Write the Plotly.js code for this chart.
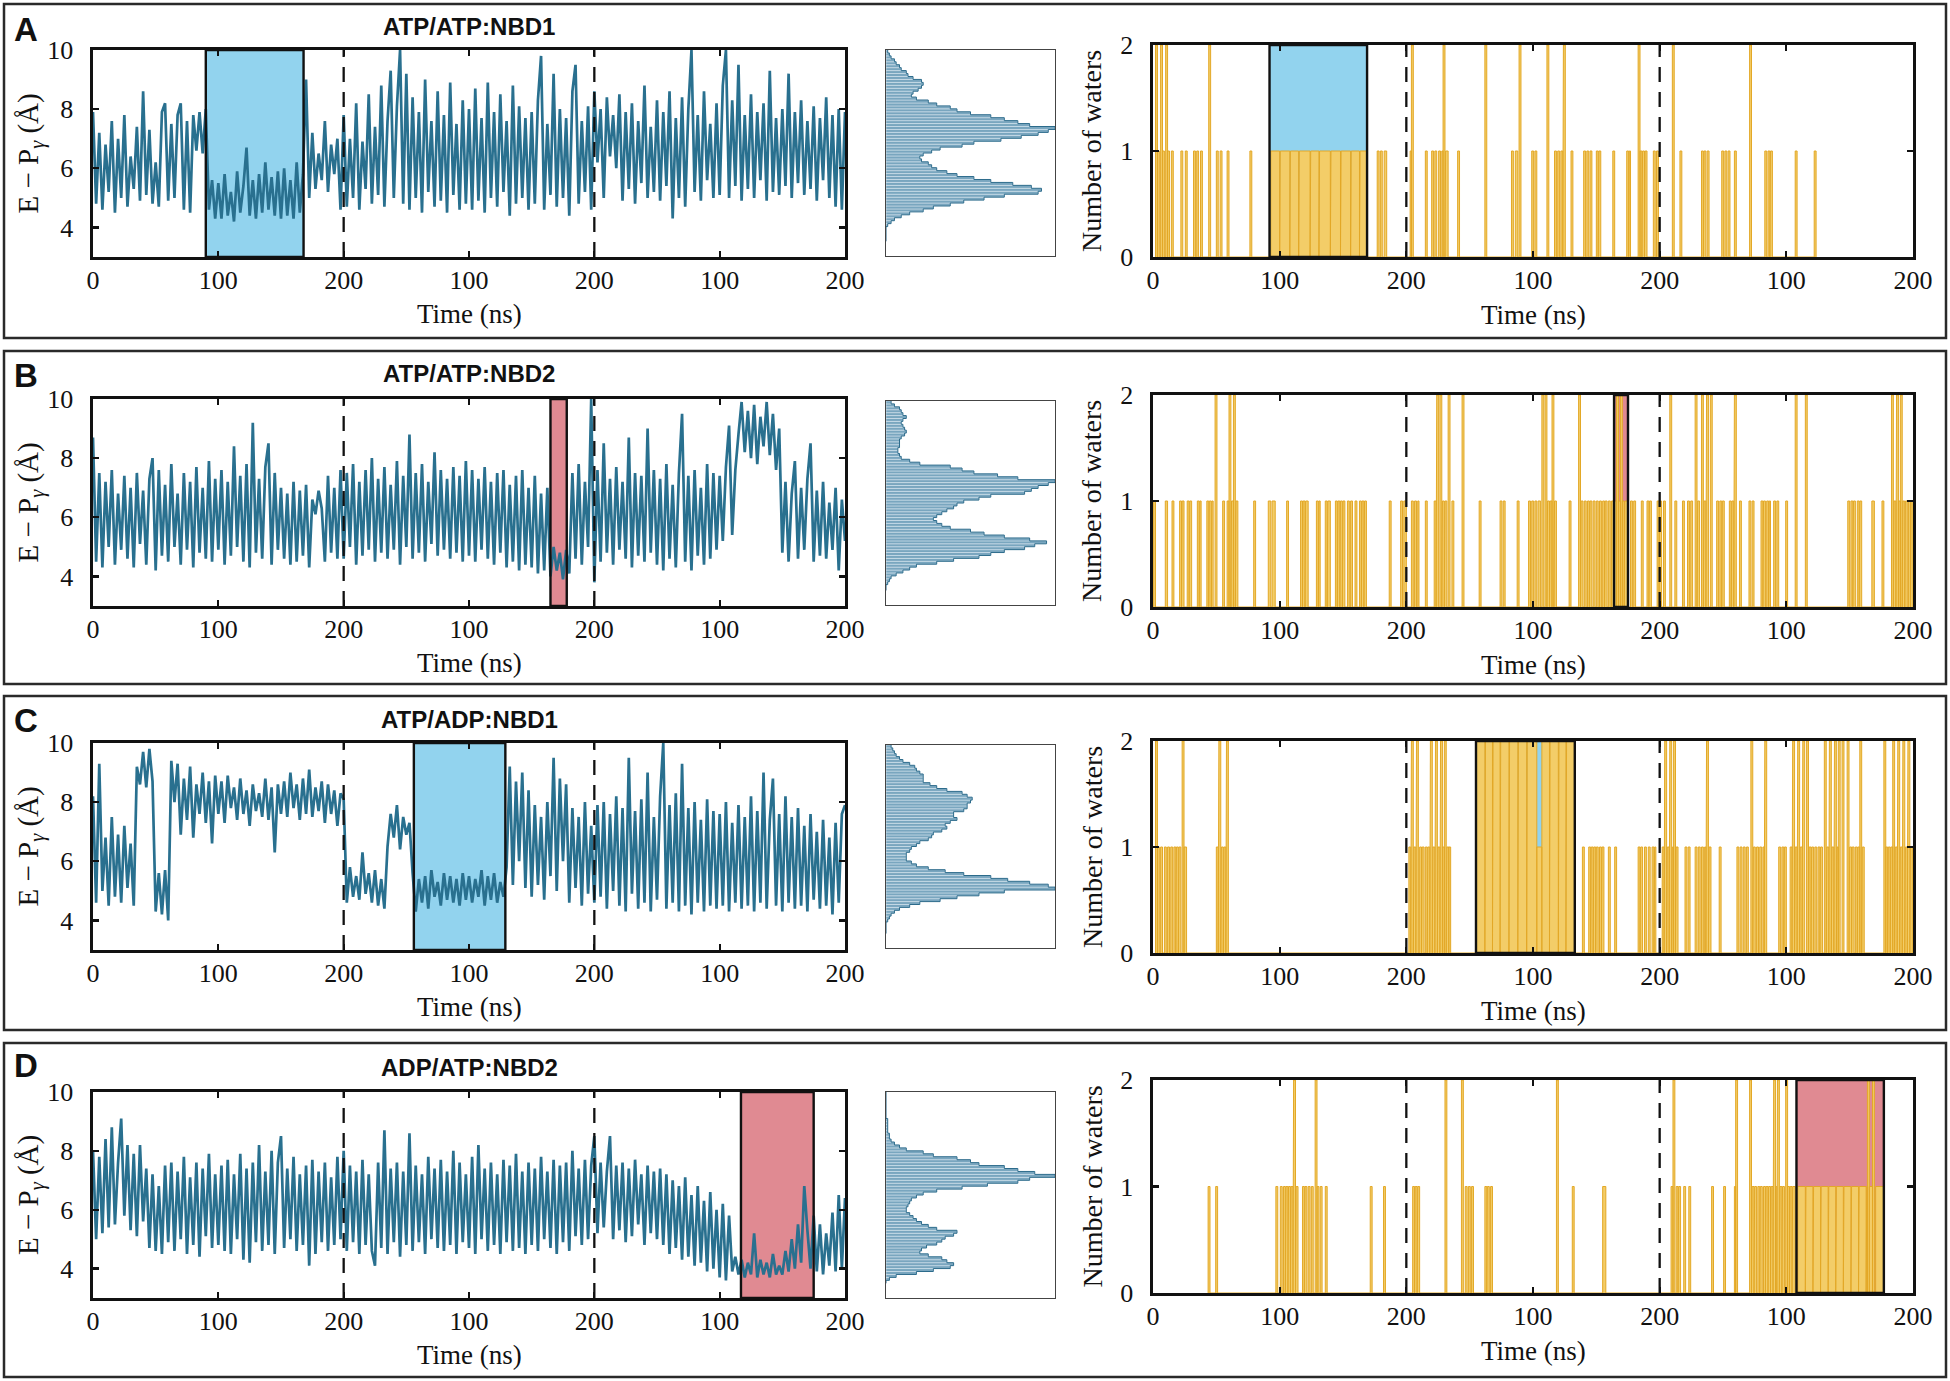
<!DOCTYPE html>
<html><head><meta charset="utf-8">
<script src="https://cdn.plot.ly/plotly-3.0.1.min.js"></script>
<style>html,body{margin:0;padding:0;background:#fff}#chart{width:1950px;height:1381px}</style>
</head><body><div id="chart"></div>
<script>
// ================= DATA =================
const timeTicks = [0, 100, 200, 300, 400, 500, 600];
const timeTickText = ['0', '100', '200', '100', '200', '100', '200'];
const runBoundaries = [200, 400];
const sampleStep = 2.5; // ns between plotted samples
const titles = ['ATP/ATP:NBD1', 'ATP/ATP:NBD2', 'ATP/ADP:NBD1', 'ADP/ATP:NBD2'];
const letters = ['A', 'B', 'C', 'D'];

// E - Pgamma distance traces (Å), one value every 2.5 ns over 3 x 200 ns runs
const distA = [
7.9,4.8,7.2,4.6,6.8,5.2,7.6,4.5,7.0,5.0,7.8,4.7,6.4,5.3,7.4,4.9,8.6,5.1,7.3,4.8,
6.2,4.7,7.9,8.2,4.9,7.5,5.0,7.8,8.2,4.6,7.6,4.5,7.8,6.6,7.9,6.5,8.0,4.6,5.6,4.3,
5.5,4.3,5.8,4.4,5.2,4.2,5.9,4.5,5.4,6.7,4.4,5.6,4.3,5.8,4.5,6.2,4.6,5.7,4.4,5.9,
4.3,6.0,4.4,5.6,4.3,6.2,4.5,5.8,9.0,5.0,7.2,5.3,6.5,5.6,7.6,5.2,6.8,5.8,7.0,4.6,
7.8,4.7,7.0,5.0,8.2,4.6,6.9,5.3,8.5,4.8,7.4,5.1,8.8,4.7,7.6,9.3,5.0,8.1,10.0,4.8,
9.2,4.6,8.4,5.0,7.9,4.5,9.0,5.2,7.6,4.7,8.6,4.9,7.8,4.5,8.9,5.1,7.5,4.6,8.3,4.8,
8.0,4.6,8.7,4.9,7.7,4.5,8.9,5.0,7.9,4.7,8.5,5.2,7.6,4.4,8.8,4.8,8.1,5.0,7.7,4.6,
7.9,4.8,8.3,9.8,4.6,7.5,5.1,9.2,4.7,8.0,5.0,7.7,4.4,8.6,9.5,4.8,7.6,5.2,8.1,4.6,
8.6,6.2,8.0,5.0,8.4,6.4,7.8,6.0,8.5,4.9,7.9,5.3,8.2,4.8,7.6,5.5,8.8,5.0,7.4,5.2,
8.3,4.9,7.9,5.4,8.6,4.3,7.7,5.0,8.4,4.7,8.0,10.0,5.2,7.8,4.9,8.6,5.6,7.5,5.0,8.2,
5.1,8.8,10.0,5.0,8.3,5.4,9.5,4.9,7.8,5.3,8.5,5.0,7.9,5.6,8.2,4.9,9.3,5.2,7.7,5.1,
8.0,5.4,9.2,5.0,7.9,5.5,8.3,5.1,7.6,5.3,8.1,4.9,7.7,5.6,8.4,5.0,7.8,4.7,8.0,4.6,7.9];
const distB = [
8.7,4.5,7.5,4.3,7.2,5.0,7.6,4.4,6.8,4.9,7.4,4.6,7.0,4.3,7.5,5.1,6.9,4.4,7.3,8.0,
4.2,7.6,4.7,7.1,4.5,7.8,5.0,6.8,4.4,7.5,4.9,7.2,4.3,7.7,4.8,7.0,4.6,7.9,4.5,7.3,
4.9,7.6,4.4,7.2,4.7,8.4,5.0,7.4,4.5,7.8,4.3,9.2,4.8,7.3,4.6,7.7,8.5,4.4,7.5,4.9,
7.0,4.6,6.8,4.4,7.2,4.5,6.9,4.7,7.1,4.3,6.6,6.1,6.9,6.3,4.5,7.4,4.8,7.0,4.6,7.6,
4.6,7.5,5.0,7.8,4.4,7.2,4.7,7.6,4.9,8.0,4.5,7.3,4.8,7.7,4.6,7.1,4.9,7.9,4.4,7.4,
5.0,8.8,4.6,7.5,4.8,7.8,4.5,7.2,5.1,8.2,4.7,7.6,4.9,7.3,4.6,7.7,4.8,7.4,4.5,7.9,
4.7,7.6,4.5,7.3,4.9,7.7,4.6,7.2,4.4,7.5,4.8,7.6,4.3,7.1,4.5,7.4,4.2,7.6,4.4,7.0,
4.3,7.4,4.1,6.8,4.2,7.0,4.0,5.0,4.2,4.8,3.9,4.9,4.1,7.5,4.6,7.8,4.4,7.2,5.0,10.0,
3.8,7.6,4.5,8.5,4.8,7.3,4.4,7.7,4.9,7.2,4.6,8.7,4.3,7.5,4.7,7.4,4.5,9.0,4.8,7.6,
4.4,7.3,4.2,7.8,4.6,7.1,4.3,7.5,9.5,4.5,7.4,4.2,7.6,4.7,7.0,4.4,7.8,4.6,7.5,4.9,
7.4,5.2,7.7,9.1,5.4,7.6,8.8,9.9,8.2,9.6,8.0,9.8,7.8,9.4,8.4,9.9,8.1,9.5,7.6,9.0,
4.8,7.2,4.5,6.8,7.9,4.6,7.0,4.9,7.3,8.5,4.5,6.9,4.7,7.2,4.6,6.5,4.9,7.0,4.2,6.6,5.2];
const distC = [
8.2,4.6,9.3,5.0,6.8,4.5,7.5,4.8,6.9,4.6,7.2,5.1,6.6,4.5,9.2,8.6,9.7,8.5,9.8,8.7,
4.3,5.6,4.2,5.7,4.0,9.4,8.0,9.3,6.9,8.8,7.4,9.2,6.8,8.6,7.6,9.0,7.3,8.7,6.6,8.9,
7.6,8.7,7.3,8.9,7.8,8.5,7.4,8.8,7.6,8.4,7.2,8.6,7.7,8.3,7.5,8.8,7.4,8.5,6.3,8.6,
7.6,8.7,7.5,9.0,7.8,8.6,7.4,8.8,7.6,9.1,7.5,8.5,7.7,8.7,7.3,8.6,7.6,8.4,7.2,8.3,
8.1,4.6,5.8,4.8,5.5,4.7,6.3,4.9,5.6,4.6,5.7,4.5,5.4,4.4,6.5,7.6,6.8,7.9,6.4,7.5,
6.9,7.3,5.6,4.3,5.4,4.6,5.5,4.4,5.7,4.8,5.3,4.5,5.6,4.7,5.5,4.6,5.4,4.5,5.6,4.7,
5.5,4.6,5.4,4.8,5.7,4.5,5.5,4.7,5.6,4.6,5.3,4.8,5.8,9.2,5.2,8.7,6.0,9.0,5.1,8.4,
4.8,7.9,5.2,7.5,4.7,8.0,5.5,9.5,5.0,8.8,6.0,8.6,4.6,7.8,5.1,7.5,4.5,8.0,4.9,7.2,
4.6,7.9,4.8,8.0,4.4,7.6,5.0,8.2,4.5,7.8,4.3,9.5,4.9,7.7,4.4,8.1,4.6,9.0,4.3,7.5,
4.7,8.2,10.0,4.4,7.9,4.6,8.3,4.3,9.3,4.5,7.8,4.2,8.0,4.6,7.4,4.3,8.1,4.5,7.7,4.4,
7.6,4.5,8.0,4.3,7.3,4.6,7.9,4.4,7.5,4.5,8.2,4.3,7.7,4.6,9.0,4.4,7.4,8.8,4.5,7.6,
4.3,8.2,4.6,7.5,4.4,7.8,4.5,7.2,4.3,7.6,4.7,7.0,4.4,7.4,4.5,6.8,4.2,7.3,4.6,7.6,7.9];
const distD = [
8.0,5.0,7.8,5.2,8.4,5.4,8.8,5.5,7.6,9.1,5.8,8.2,5.3,7.9,5.1,8.2,5.6,7.4,4.7,7.2,
4.6,6.8,4.5,7.5,4.9,7.6,4.6,7.3,5.0,7.8,4.5,7.1,4.8,7.6,4.4,7.4,5.1,7.9,4.7,7.2,
4.8,7.5,4.6,7.7,4.5,7.2,5.0,7.9,4.3,7.4,4.2,7.6,4.9,8.2,4.6,7.3,4.8,8.0,4.5,7.6,
8.5,4.7,7.4,5.0,7.8,4.6,7.2,4.8,7.5,4.1,7.7,4.5,7.3,4.9,7.6,4.6,7.1,4.8,7.8,5.0,
8.0,4.6,7.5,4.9,7.3,4.5,7.7,4.8,7.2,4.6,4.1,7.6,4.7,8.7,4.5,7.4,4.9,7.6,4.4,7.3,
4.8,8.6,4.6,7.5,4.9,7.2,4.5,7.8,5.0,7.4,4.7,7.7,4.6,7.3,4.8,8.0,4.5,7.6,4.9,7.2,
4.7,7.8,4.5,8.2,5.0,7.4,4.6,7.6,4.8,7.2,4.5,7.7,4.9,7.5,4.6,7.9,4.7,7.3,4.5,7.6,
4.8,7.4,4.6,7.8,5.0,7.3,4.7,7.7,4.5,7.5,4.9,7.6,4.6,8.0,5.1,7.4,4.8,7.7,5.0,7.5,
8.5,5.2,7.6,5.4,7.3,8.5,5.0,7.5,5.3,7.6,4.9,7.4,5.1,7.7,5.5,7.2,4.8,7.5,5.2,7.3,
5.0,7.4,4.8,7.2,4.5,7.0,4.7,6.8,4.3,7.1,4.4,6.5,4.1,6.8,4.2,6.3,3.9,6.6,4.0,6.0,
3.7,6.2,3.6,5.8,3.9,4.4,3.8,4.3,3.7,4.2,3.8,5.2,3.7,4.3,3.8,4.2,3.7,4.5,3.8,4.1,
3.8,4.6,3.9,5.0,4.0,5.5,4.2,6.8,5.3,4.0,5.8,3.9,5.5,3.8,5.2,4.1,5.9,3.9,6.5,4.0,6.4];

// Histograms of the distance (relative counts), bins of 0.1 Å from 3.5 to 10.0
const histStart = 3.5, histBin = 0.1;
const histA = [0,0,0,0,0,
1,3,5,9,14,22,28,38,46,58,
70,90,92,86,75,62,52,42,36,30,
27,25,21,20,22,27,32,45,52,68,
80,90,96,100,85,78,70,62,50,42,
38,30,25,18,15,16,19,21,22,21,
16,13,12,9,8,6,5,3,2,1];
const histB = [0,0,1,2,3,
6,10,14,18,30,40,55,62,70,82,
88,95,85,70,58,50,38,33,30,28,
30,33,36,40,42,46,55,62,82,86,
90,96,100,78,66,52,45,38,20,14,
9,8,7,7,8,8,8,9,11,12,
11,10,9,10,12,10,9,8,5,3];
const histC = [0,0,0,0,1,
2,3,5,8,14,20,32,42,55,70,
100,96,85,72,62,46,35,25,18,15,
12,12,12,14,15,18,20,25,27,28,
33,36,35,38,42,40,40,46,48,48,
50,51,48,45,36,30,26,22,22,22,
20,18,17,14,10,8,6,5,4,3];
const histD = [0,2,6,18,28,
38,40,36,33,25,20,21,24,30,33,
35,40,42,30,25,21,18,16,14,12,
12,13,14,15,18,22,30,45,60,78,
85,100,88,78,70,55,50,42,28,22,
12,8,5,3,2,2,1,1,1,1,
1,0,0,0,0,0,0,0,0,0];

// Number of waters: [start ns, end ns, count]
const watersA = [[2,3.5,2],[3.5,5,1],[6,7.5,2],[7.5,9,1],[10,11.5,2],[11.5,13,1],[14.5,16,1],[22,23.5,1],[25.5,27,1],[32,33.5,1],[34.5,36,1],[37.5,39,1],[44,45.5,2],[50,51.5,1],[53,54.5,1],[58.5,60,1],[76.5,78,1],
[93,100,1],[100.5,108,1],[108.5,115,1],[115.5,124,1],[124.5,131,1],[131.5,140,1],[140.5,148,1],[148.5,156,1],[156.5,163,1],[163.5,169,1],
[177,178.5,1],[179.5,181,1],[182.5,184.5,1],[203,204,1],[204,205.5,2],[215,216.5,1],[220,221.5,1],[222.5,224,1],[225.5,227,1],[228,229,1],[229,230.5,2],[231,233,1],[240.5,242,1],[262,263.5,2],[283,284.5,1],[286,288,1],[289,290.5,2],[299,300.5,1],[301.5,303,1],[311,312.5,2],[317,318.5,1],[319.5,321,1],[322,323.5,1],[324,325.5,2],[330,331.5,1],[340,341.5,1],[342.5,344,1],[345,346.5,1],[350,351.5,1],[352,353.5,1],[363,364.5,1],[374,375.5,1],[376,377,1],[383,384.5,2],[384.5,386,1],[386.5,388,1],[388.5,390,1],[395,396.5,1],[397.5,399,1],[410,411.5,2],[416,417.5,1],[433,434.5,1],[435,436.5,1],[437.5,439,1],[449,450.5,1],[451.5,453,1],[454,455.5,1],[459,460.5,1],[471,472.5,2],[483,484.5,1],[485.5,487,1],[487.5,489,1],[507,508.5,1],[522,523.5,1]];
const watersB = [[0.5,2,1],[9.7,11.5,1],[15,16.5,1],[21,22.5,1],[23,24.5,1],[27,28.5,1],[29,30.5,1],[35,36.5,1],[37,38,1],[42.5,44,1],[44.5,46,1],[46.5,47.5,1],[49,50.5,2],[55,56.5,1],[58.5,60,1],[60,61.5,2],[62,63.5,1],[63.5,65,2],[65.5,67,1],[79.5,81,1],[91,93,1],[94,96.5,1],[105.5,107,1],[116.5,118,1],[118.5,120,1],[120.5,122.5,1],[129,130.5,1],[131,132,1],[136,137.5,1],[138,140,1],[144,145.5,1],[146,147.5,1],[148,149.5,1],[150,151.5,1],[153.5,155,1],[156,157.5,1],[159.5,161,1],[163,164.5,1],[165,166.5,1],[167,168.5,1],[186.5,188,1],[195.5,197,1],[198,200,1],[204,205.5,1],[206.5,208,1],[209,210,1],[215,216.5,1],[222,223.5,1],[224,225.5,2],[226.5,228,2],[228.5,230,1],[230.5,232,1],[233,234.5,2],[236,237.5,1],[244,245.5,2],[257.5,259,1],[274,275.5,1],[276.5,278,1],[287.5,289,1],[296.5,298,1],[299,300.5,1],[301.5,303,1],[304,306,1],[307,308.5,2],[309.5,311,2],[311.5,313,1],[313.5,315,1],[315,316.5,2],[317,318.5,1],[328.5,330,1],[336,337.5,2],[338,339.5,1],[340.5,342,1],[343,344.5,1],[345,346.5,1],[347.5,349,1],[350,351.5,1],[352.5,354,1],[355,356.5,1],[357,358.5,1],[359.5,361,1],[362,363.5,1],[364,366,1],[366,367.5,2],[367.5,369,1],[369,370.5,2],[370.5,372,1],[372.5,374.5,1],[377,378.5,1],[379.5,381,1],[385.5,387,1],[390,391.5,1],[392,393.5,1],[398,399.5,1],[400,401.5,1],[403,404.5,1],[408,409.5,2],[412,413.5,1],[418,419.5,1],[422,423.5,1],[424.5,426,1],[428,429.5,2],[430,431.5,1],[433,434.5,2],[435,436.5,1],[437,438.5,2],[440,441.5,2],[445,446.5,1],[447.5,449,1],[449.5,451,1],[455,456.5,1],[457,458.5,1],[459,460.5,2],[463,464.5,1],[470.5,472,1],[473,474.5,1],[480,481.5,1],[482,483.5,1],[484.5,486,1],[486.5,487.5,1],[490,491.5,1],[492.5,494,1],[499.5,501,1],[507,508.5,2],[515,516.5,2],[548.5,550,1],[551,552.5,1],[553,554.5,1],[556,557.5,1],[558,559.5,1],[567.5,569.5,1],[575.5,577,1],[583,584.5,2],[585,586.5,1],[587,588.5,2],[588.5,590,1],[590,591.5,2],[592,593.5,1],[594,595.5,1],[596.5,598,1],[598.5,600,1]];
const watersC = [[2,3.5,2],[3.5,5,1],[6,7.5,1],[9,10.5,1],[11.5,13,1],[14,15.5,1],[16.5,18,1],[18.5,20,1],[20.5,22,1],[23,24.5,2],[24.5,26.5,1],[50,51.5,1],[52,53.5,2],[54,55.5,1],[56,57.5,1],[58,59.5,2],[202,203.5,1],[204,205.5,2],[206,207.5,1],[208,209.5,2],[210.5,212,1],[212.5,214,1],[215,216.5,1],[217,218.5,1],[219,220.5,2],[221,222.5,1],[223,224.5,2],[225,226.5,1],[227,228.5,2],[228.5,230,1],[230,231.5,2],[232,233.5,1],[233.5,235,1],
[255,262,2],[262.5,268,2],[268.5,274,2],[274.5,281,2],[281.5,288,2],[288.5,295,2],[295.5,303,2],[303,307,1],[307,313,2],[313.5,320,2],[320.5,326,2],[326.5,333,2],
[339,340.5,1],[344,345.5,1],[346,347.5,1],[348,349.5,1],[350,351.5,1],[352.5,354,1],[354.5,356,1],[359.5,361,1],[364.5,366,1],[383,384.5,1],[385,386.5,1],[388,389.5,1],[391,392.5,1],[394,395.5,1],[396,397,1],[402,403.5,1],[404,405.5,2],[406,407.5,1],[408,409.5,2],[410,411,1],[411,412.5,2],[413,414.5,1],[420,421.5,1],[422.5,424,1],[428,429.5,1],[430.5,432,1],[433,434.5,1],[435.5,436.5,1],[437,438.5,2],[439,440.5,1],[447,448.5,1],[461,462.5,1],[463.5,465,1],[466,467.5,1],[468.5,470,1],[472,473.5,2],[474,475.5,1],[476.5,478,1],[479,480.5,1],[481.5,482.5,1],[483,484.5,2],[494,495.5,1],[496.5,498,1],[498.5,500,1],[503,504.5,1],[505,506.5,2],[507,508.5,1],[509,510.5,2],[511,512.5,1],[513,514.5,2],[516,517.5,2],[518,519.5,1],[520,521.5,1],[522.5,524,1],[525,526.5,1],[527,528.5,1],[530,531.5,2],[532,533.5,1],[534,535.5,2],[536,537.5,1],[538,539.5,2],[540,541,1],[541,542.5,2],[544,545.5,2],[548,549.5,2],[550,551.5,1],[552,553.5,1],[554.5,556,1],[556.5,558,1],[558,559.5,2],[560,561.5,1],[577,578.5,2],[578.5,580,1],[580.5,582,1],[582.5,584,1],[584,585.5,2],[586,587.5,1],[588,589.5,2],[590,591.5,1],[592,593.5,2],[594,595.5,1],[596,597.5,2],[598,599.5,1]];
const watersD = [[43.5,45,1],[49.5,51,1],[97,98.5,1],[100.5,102,1],[103,104.5,1],[105,106.5,1],[107,108.5,1],[109,110.5,1],[111,112.5,2],[113,114.5,1],[118,119.5,1],[120,121.5,1],[122.5,124,1],[125,126.5,1],[128,129.5,2],[129.5,131,1],[132,133.5,1],[136,137.5,1],[171.5,173,1],[182,183.5,1],[205,206.5,1],[207,208.5,1],[209,210.5,1],[230.5,232,2],[243.5,245,2],[246.5,248,1],[249,250.5,1],[251.5,253,1],[262,263.5,1],[264,265.5,1],[266.5,268,1],[318.5,320,2],[331,332.5,1],[355,357.5,1],[409,410.5,1],[410.5,412,2],[413,414.5,1],[415,416.5,1],[419,420.5,1],[423,424.5,1],[441,442.5,1],[450.5,452,1],[459,460,1],[460,461.5,2],[471,472.5,2],[473,474.5,1],[475,476.5,1],[477.5,479,1],[479.5,481,1],[482,483.5,1],[484,485.5,1],[486,487.5,1],[488,489.5,1],[490,491.5,2],[491.5,492.5,1],[493,494.5,2],[495,496.5,1],[497,498.5,1],[499.5,501,2],[501,502.5,1],[503,504.5,1],[505,507,1],[509,515,1],[515.5,521,1],[521.5,527,1],[527.5,533,1],[533.5,539,1],[539.5,545,1],[545.5,551,1],[551.5,557,1],[557.5,563,1],[563.5,564,1],[564,565.5,2],[565.5,568,1],[568,569.5,2],[569.5,570,1],[570.5,577,1]];

// Highlighted windows (ns) and their kind
const leftWindows = [[90,168],[365,378],[256,329],[517,575]];
const rightWindows = [[92,169],[364,375],[255,333],[508,577]];
const windowKinds = ['blue','red','blue','red'];

// ================= LAYOUT GEOMETRY (pixels) =================
const W = 1950, H = 1381;
const geom = [
  {panel:[4,4,1946,338],    left:[93,50,845,257],    hist:[886,50,1055,256],    right:[1153,45,1913,257],   titleY:27,   letterY:29},
  {panel:[4,351,1946,684],  left:[93,399,845,606],   hist:[886,401,1055,605],   right:[1153,395,1913,607],  titleY:373,  letterY:375},
  {panel:[4,696,1946,1030], left:[93,743,845,950],   hist:[886,745,1055,948],   right:[1153,741,1913,953],  titleY:719,  letterY:720},
  {panel:[4,1043,1946,1377],left:[93,1092,845,1298], hist:[886,1092,1055,1298], right:[1153,1080,1913,1293], titleY:1067, letterY:1065}
];
const PX = x => x / W, PY = y => 1 - y / H;
const colors = {trace:'#29708f', histFill:'#79a6bf', histEdge:'#2c6b8b', waterFill:'#f3cd68', waterLine:'#e3a827', blue:'#92d3ee', red:'#e08a92'};
const serif = 'Liberation Serif';
const sans = 'Liberation Sans';

const dists = [distA, distB, distC, distD];
const hists = [histA, histB, histC, histD];
const waters = [watersA, watersB, watersC, watersD];

const traces = [], shapes = [], annotations = [];
const layout = {width:W, height:H, margin:{l:0,r:0,t:0,b:0}, paper_bgcolor:'#fff', plot_bgcolor:'rgba(0,0,0,0)', showlegend:false, font:{family:serif, size:26, color:'#111'}};

function mainAxis(dom, extra) {
  return Object.assign({domain:dom, showline:true, linewidth:2.6, linecolor:'#111', mirror:'ticks', ticks:'inside', ticklen:6, tickwidth:2.2, tickcolor:'#111', showgrid:false, zeroline:false, fixedrange:true, tickfont:{family:serif, size:26, color:'#111'}}, extra);
}

geom.forEach((g, r) => {
  const nL = 3*r+1, nH = 3*r+2, nR = 3*r+3;
  const sfx = n => (n === 1 ? '' : String(n));
  layout['xaxis'+sfx(nL)] = mainAxis([PX(g.left[0]), PX(g.left[2])], {anchor:'y'+sfx(nL), range:[0,600], tickvals:timeTicks, ticktext:timeTickText, ticklabelstandoff:-2});
  layout['yaxis'+sfx(nL)] = mainAxis([PY(g.left[3]), PY(g.left[1])], {anchor:'x'+sfx(nL), range:[3,10], tickvals:[4,6,8,10], ticklabelstandoff:12});
  layout['xaxis'+sfx(nH)] = {domain:[PX(g.hist[0]), PX(g.hist[2])], anchor:'y'+sfx(nH), range:[0,100], showline:true, linewidth:1.2, linecolor:'#444', mirror:true, showticklabels:false, ticks:'', showgrid:false, zeroline:false, fixedrange:true};
  layout['yaxis'+sfx(nH)] = {domain:[PY(g.hist[3]), PY(g.hist[1])], anchor:'x'+sfx(nH), range:[3,10], showline:true, linewidth:1.2, linecolor:'#444', mirror:true, showticklabels:false, ticks:'', showgrid:false, zeroline:false, fixedrange:true};
  layout['xaxis'+sfx(nR)] = mainAxis([PX(g.right[0]), PX(g.right[2])], {anchor:'y'+sfx(nR), range:[0,600], tickvals:timeTicks, ticktext:timeTickText, ticklabelstandoff:-2});
  layout['yaxis'+sfx(nR)] = mainAxis([PY(g.right[3]), PY(g.right[1])], {anchor:'x'+sfx(nR), range:[0,2], tickvals:[0,1,2], ticklabelstandoff:12});

  // distance trace
  const d = dists[r];
  traces.push({type:'scatter', mode:'lines', x:d.map((_, i) => i*sampleStep), y:d, xaxis:'x'+sfx(nL), yaxis:'y'+sfx(nL), line:{color:colors.trace, width:2.7}, hoverinfo:'skip'});

  // histogram
  const h = hists[r];
  const centers = h.map((_, i) => histStart + histBin*(i+0.5));
  traces.push({type:'bar', orientation:'h', y:centers, x:h, width:histBin, xaxis:'x'+sfx(nH), yaxis:'y'+sfx(nH), marker:{color:colors.histFill, line:{color:'rgba(232,242,248,0.9)', width:0.5}}, hoverinfo:'skip'});
  const ex = [0], ey = [histStart];
  h.forEach((c, i) => { ex.push(c, c); ey.push(histStart + histBin*i, histStart + histBin*(i+1)); });
  traces.push({type:'scatter', mode:'lines', x:ex, y:ey, xaxis:'x'+sfx(nH), yaxis:'y'+sfx(nH), line:{color:colors.histEdge, width:1}, hoverinfo:'skip'});

  // waters step trace
  const wx = [], wy = [];
  waters[r].slice().sort((a, b) => a[0]-b[0]).forEach(([a, b, n]) => { wx.push(a, a, b, b); wy.push(0, n, n, 0); });
  traces.push({type:'scatter', mode:'lines', x:wx, y:wy, fill:'tozeroy', fillcolor:colors.waterFill, xaxis:'x'+sfx(nR), yaxis:'y'+sfx(nR), line:{color:colors.waterLine, width:1}, hoverinfo:'skip'});

  // highlighted windows + run boundaries
  const col = colors[windowKinds[r]];
  [[nL, leftWindows[r]], [nR, rightWindows[r]]].forEach(([n, w]) => {
    shapes.push({type:'rect', xref:'x'+sfx(n), yref:'y'+sfx(n)+' domain', x0:w[0], x1:w[1], y0:0, y1:1, fillcolor:col, line:{width:0}, layer:'below'});
    shapes.push({type:'rect', xref:'x'+sfx(n), yref:'y'+sfx(n)+' domain', x0:w[0], x1:w[1], y0:0, y1:1, fillcolor:'rgba(0,0,0,0)', line:{color:'#111', width:2.4}, layer:'above'});
    runBoundaries.forEach(t => shapes.push({type:'line', xref:'x'+sfx(n), yref:'y'+sfx(n)+' domain', x0:t, x1:t, y0:0, y1:1, line:{color:'#111', width:2.3, dash:'15px,10px'}, layer:'above'}));
  });

  // panel border
  shapes.push({type:'rect', xref:'paper', yref:'paper', x0:PX(g.panel[0]), x1:PX(g.panel[2]), y0:PY(g.panel[3]), y1:PY(g.panel[1]), line:{color:'#2a2a2a', width:2.5}, fillcolor:'rgba(0,0,0,0)', layer:'above'});

  // texts
  annotations.push({xref:'paper', yref:'paper', x:PX(26), y:PY(g.letterY), text:'<b>'+letters[r]+'</b>', showarrow:false, xanchor:'center', yanchor:'middle', font:{family:sans, size:33, color:'#111'}});
  annotations.push({xref:'paper', yref:'paper', x:PX((g.left[0]+g.left[2])/2), y:PY(g.titleY), text:'<b>'+titles[r]+'</b>', showarrow:false, xanchor:'center', yanchor:'middle', font:{family:sans, size:24, color:'#111'}});
  annotations.push({xref:'paper', yref:'paper', x:PX(30), y:PY((g.left[1]+g.left[3])/2), text:'E − P<sub><i>γ</i></sub> (Å)', textangle:-90, showarrow:false, xanchor:'center', yanchor:'middle', font:{family:serif, size:29, color:'#111'}});
  annotations.push({xref:'paper', yref:'paper', x:PX(1092), y:PY((g.right[1]+g.right[3])/2), text:'Number of waters', textangle:-90, showarrow:false, xanchor:'center', yanchor:'middle', font:{family:serif, size:28, color:'#111'}});
  annotations.push({xref:'paper', yref:'paper', x:PX((g.left[0]+g.left[2])/2), y:PY(g.left[3]+57), text:'Time (ns)', showarrow:false, xanchor:'center', yanchor:'middle', font:{family:serif, size:27, color:'#111'}});
  annotations.push({xref:'paper', yref:'paper', x:PX((g.right[0]+g.right[2])/2), y:PY(g.right[3]+58), text:'Time (ns)', showarrow:false, xanchor:'center', yanchor:'middle', font:{family:serif, size:27, color:'#111'}});
});

layout.shapes = shapes;
layout.annotations = annotations;
Plotly.newPlot('chart', traces, layout, {displayModeBar:false, staticPlot:true});
</script>
</body></html>
